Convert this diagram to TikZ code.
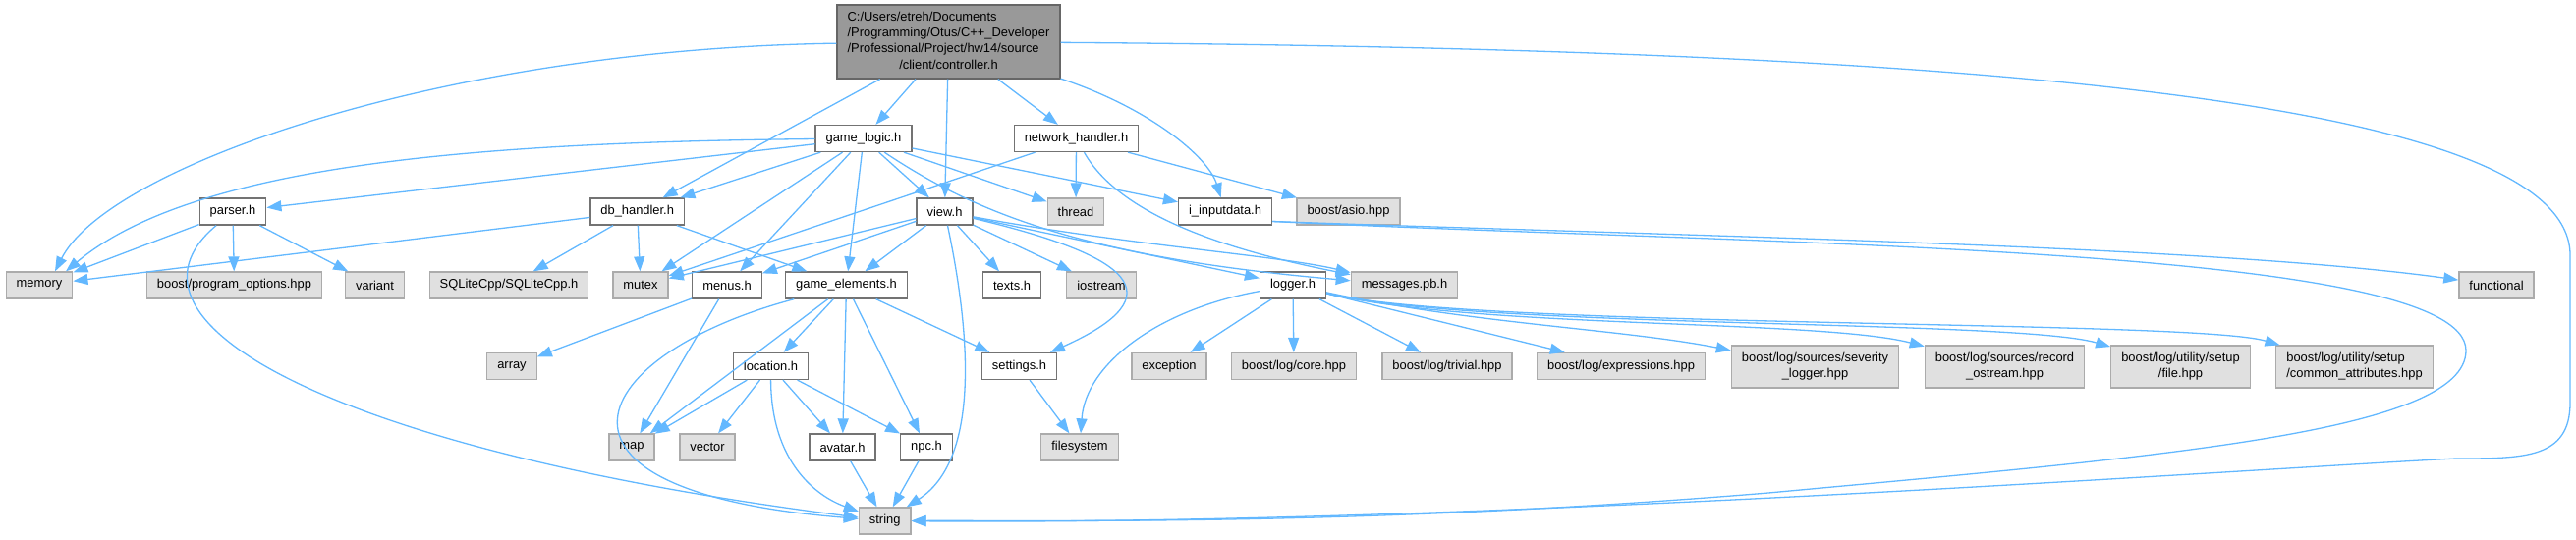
\documentclass[tikz,border=0pt]{standalone}
\usepackage{fontspec}
\setmainfont{Liberation Sans}
\usetikzlibrary{arrows.meta}
\definecolor{depblue}{HTML}{63B8FF}
\definecolor{extfill}{HTML}{E0E0E0}
\definecolor{rootfill}{HTML}{999999}
\tikzset{dep/.style={-{Triangle[length=15pt,width=11pt]}, draw=depblue, line width=1.3pt},
  hdr/.style={draw=black!55, line width=1.3pt, fill=white, inner xsep=10.5pt, inner ysep=0pt, minimum height=27pt},
  ext/.style={hdr, draw=black!33, fill=extfill},
  rootbox/.style={hdr, draw=black!60, fill=rootfill, minimum height=75pt}}

\begin{document}
\begin{tikzpicture}[x=1pt, y=-1pt, font=\fontsize{12.9}{16.2}\selectfont]
  \useasboundingbox (0,0) rectangle (2622,549);
  \node[rootbox] (ctrl) at (965.5,42.5) {\begin{tabular}{@{}l@{}}C:/Users/etreh/Documents\\/Programming/Otus/C++\_Developer\\/Professional/Project/hw14/source\\\multicolumn{1}{@{}c@{}}{/client/controller.h}\end{tabular}};
  \node[hdr] (gamelogic) at (879,141) {game\_logic.h};
  \node[hdr] (nethandler) at (1095.5,141) {network\_handler.h};
  \node[hdr] (parser) at (237,215.5) {parser.h};
  \node[hdr] (dbhandler) at (648.7,215.5) {db\_handler.h};
  \node[hdr] (view) at (961.5,215.5) {view.h};
  \node[ext] (thread) at (1095,215.5) {thread};
  \node[hdr] (inputdata) at (1247,215.5) {i\_inputdata.h};
  \node[ext] (asio) at (1372.5,215.5) {boost/asio.hpp};
  \node[ext] (memory) at (40,290.5) {memory};
  \node[ext] (progopts) at (238.5,290.5) {boost/program\_options.hpp};
  \node[ext] (variant) at (381.5,290.5) {variant};
  \node[ext] (sqlite) at (518,290.5) {SQLiteCpp/SQLiteCpp.h};
  \node[ext] (mutex) at (652,290.5) {mutex};
  \node[hdr] (menus) at (740,290.5) {menus.h};
  \node[hdr] (gameelements) at (861.5,290.5) {game\_elements.h};
  \node[hdr] (texts) at (1030,290.5) {texts.h};
  \node[ext] (iostream) at (1121,290.5) {iostream};
  \node[hdr] (logger) at (1316,290.5) {logger.h};
  \node[ext] (messages) at (1429.5,290.5) {messages.pb.h};
  \node[ext] (functional) at (2541,290.5) {functional};
  \node[ext] (array) at (521,373) {array};
  \node[hdr] (location) at (784.5,373) {location.h};
  \node[hdr] (settings) at (1037.5,373) {settings.h};
  \node[ext] (exception) at (1190,373) {exception};
  \node[ext] (logcore) at (1317,373) {boost/log/core.hpp};
  \node[ext] (logtrivial) at (1473,373) {boost/log/trivial.hpp};
  \node[ext] (logexpr) at (1650,373) {boost/log/expressions.hpp};
  \node[ext, minimum height=43pt, align=center] (logseverity) at (1847.5,373.5) {boost/log/sources/severity\\\_logger.hpp};
  \node[ext, minimum height=43pt, align=center] (logrecord) at (2040.5,373.5) {boost/log/sources/record\\\_ostream.hpp};
  \node[ext, minimum height=43pt, align=center] (logfile) at (2219.5,373.5) {boost/log/utility/setup\\/file.hpp};
  \node[ext, minimum height=43pt, align=left] (logcommon) at (2396.5,373.5) {boost/log/utility/setup\\/common\_attributes.hpp};
  \node[ext] (map) at (643,455.5) {map};
  \node[ext] (vector) at (720,455.5) {vector};
  \node[hdr] (avatar) at (857.5,455.5) {avatar.h};
  \node[hdr] (npc) at (943,455.5) {npc.h};
  \node[ext] (filesystem) at (1099,455.5) {filesystem};
  \node[ext] (string) at (900.7,530.5) {string};

  \draw[dep] (ctrl) .. controls (450,50) and (110,170) .. ([xshift=16pt]memory.north);
  \draw[dep] (ctrl) -- (gamelogic);
  \draw[dep] (ctrl) -- (dbhandler);
  \draw[dep] (ctrl) -- (view);
  \draw[dep] (ctrl) -- (nethandler);
  \draw[dep] (ctrl) .. controls (1170,110) and (1230,160) .. (inputdata);
  \draw[dep] (ctrl) .. controls (2000,50) and (2616,100) .. (2616,260) -- (2616,410) .. controls (2616,467) and (2570,467) .. (2500,467) .. controls (2250,480) and (1500,535) .. (string);
  \draw[dep] (gamelogic) .. controls (500,145) and (200,165) .. ([xshift=27pt]memory.north);
  \draw[dep] (gamelogic) -- (parser);
  \draw[dep] (gamelogic) -- (dbhandler);
  \draw[dep] (gamelogic) -- (mutex);
  \draw[dep] (gamelogic) -- (menus);
  \draw[dep] (gamelogic) -- (gameelements);
  \draw[dep] (gamelogic) -- (view);
  \draw[dep] (gamelogic) -- (thread);
  \draw[dep] (gamelogic) -- (inputdata);
  \draw[dep] (gamelogic) .. controls (990,215) and (1100,262) .. (messages);
  \draw[dep] (nethandler) -- (mutex);
  \draw[dep] (nethandler) -- (thread);
  \draw[dep] (nethandler) -- (asio);
  \draw[dep] (nethandler) .. controls (1140,220) and (1250,255) .. (messages);
  \draw[dep] (parser) -- (memory);
  \draw[dep] (parser) -- (progopts);
  \draw[dep] (parser) -- (variant);
  \draw[dep] (parser) .. controls (100,330) and (350,460) .. (string);
  \draw[dep] (dbhandler) -- (memory);
  \draw[dep] (dbhandler) -- (sqlite);
  \draw[dep] (dbhandler) -- (mutex);
  \draw[dep] (dbhandler) -- (gameelements);
  \draw[dep] (view) -- (mutex);
  \draw[dep] (view) -- (menus);
  \draw[dep] (view) -- (gameelements);
  \draw[dep] (view) -- (texts);
  \draw[dep] (view) -- (iostream);
  \draw[dep] (view) .. controls (1150,260) and (1200,300) .. (settings);
  \draw[dep] (view) -- (logger);
  \draw[dep] (view) .. controls (1150,250) and (1300,260) .. (messages);
  \draw[dep] (view) .. controls (990,350) and (995,470) .. (string);
  \draw[dep] ([yshift=-10pt]inputdata.east) .. controls (1700,240) and (2250,250) .. (functional);
  \draw[dep] ([yshift=-10pt]inputdata.east) .. controls (1800,250) and (2510,250) .. (2510,357) .. controls (2510,440) and (2200,465) .. (1800,502) .. controls (1400,535) and (1100,530) .. (string);
  \draw[dep] (menus) -- (array);
  \draw[dep] (menus) -- (map);
  \draw[dep] (gameelements) -- (map);
  \draw[dep] (gameelements) .. controls (600,360) and (520,500) .. (string);
  \draw[dep] (gameelements) -- (location);
  \draw[dep] (gameelements) -- (avatar);
  \draw[dep] (gameelements) -- (npc);
  \draw[dep] (gameelements) -- (settings);
  \draw[dep] (location) -- (map);
  \draw[dep] (location) -- (vector);
  \draw[dep] (location) .. controls (785,470) and (830,505) .. (string);
  \draw[dep] (location) -- (avatar);
  \draw[dep] (location) -- (npc);
  \draw[dep] (avatar) -- (string);
  \draw[dep] (npc) -- (string);
  \draw[dep] (settings) -- (filesystem);
  \draw[dep] (logger) .. controls (1180,315) and (1105,370) .. (filesystem);
  \draw[dep] (logger) -- (exception);
  \draw[dep] (logger) -- (logcore);
  \draw[dep] (logger) -- (logtrivial);
  \draw[dep] (logger) -- (logexpr);
  \draw[dep] (logger) .. controls (1500,330) and (1650,335) .. (logseverity);
  \draw[dep] (logger) .. controls (1500,335) and (1850,325) .. (logrecord);
  \draw[dep] (logger) .. controls (1500,335) and (2050,325) .. (logfile);
  \draw[dep] (logger) .. controls (1500,335) and (2230,325) .. (logcommon);
\end{tikzpicture}
\end{document}
